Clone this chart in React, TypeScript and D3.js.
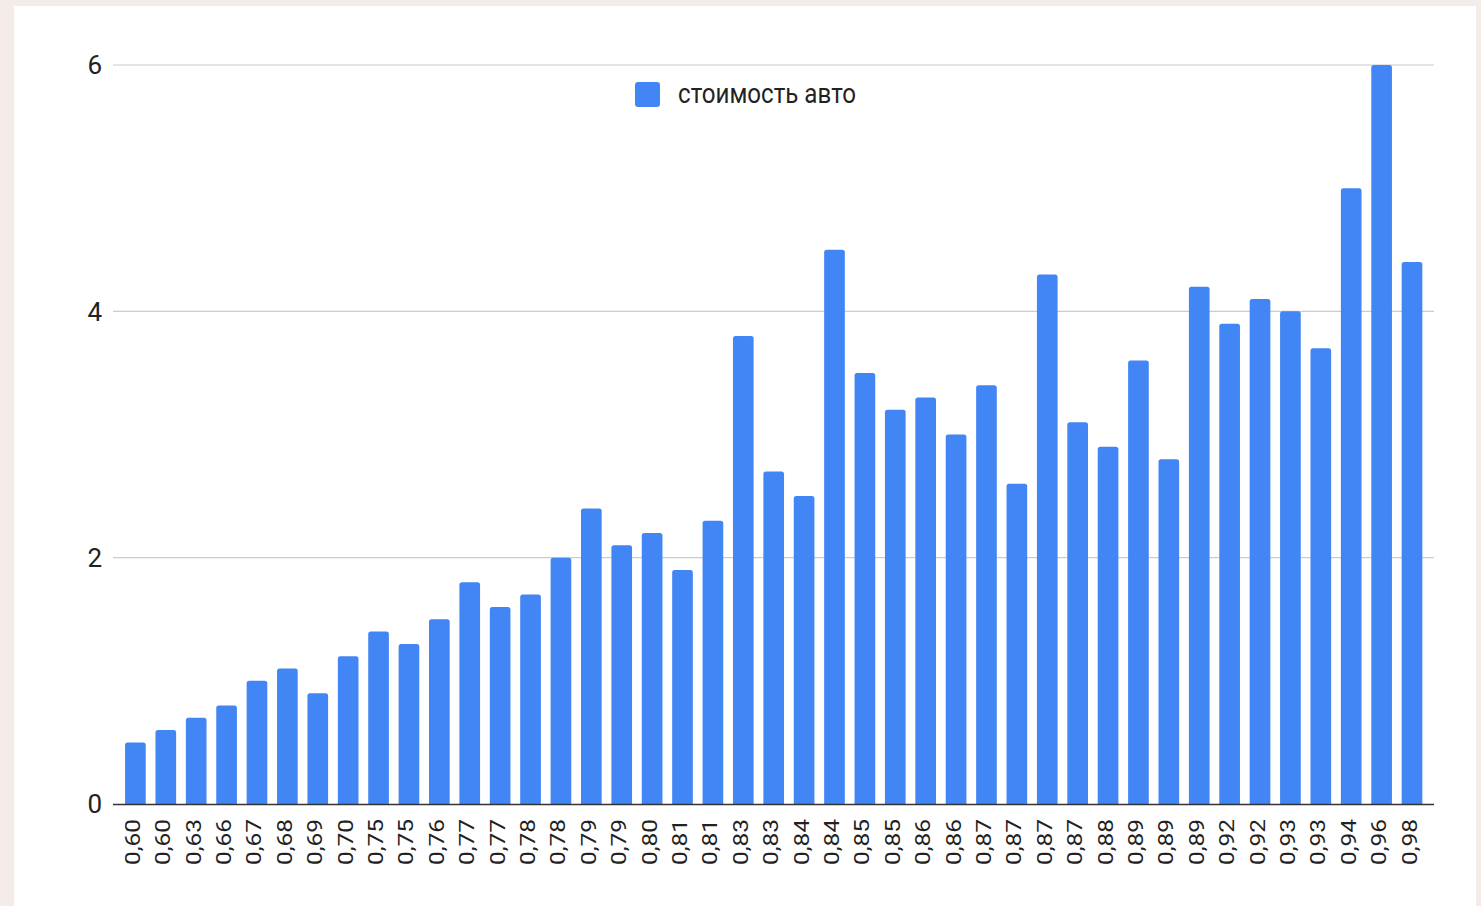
import * as d3 from 'd3'

const labels = [
  '0,60', '0,60', '0,63', '0,66', '0,67', '0,68', '0,69', '0,70', '0,75', '0,75',
  '0,76', '0,77', '0,77', '0,78', '0,78', '0,79', '0,79', '0,80', '0,81', '0,81',
  '0,83', '0,83', '0,84', '0,84', '0,85', '0,85', '0,86', '0,86', '0,87', '0,87',
  '0,87', '0,87', '0,88', '0,89', '0,89', '0,89', '0,92', '0,92', '0,93', '0,93',
  '0,94', '0,96', '0,98',
]

const values = [
  0.5, 0.6, 0.7, 0.8, 1.0, 1.1, 0.9, 1.2, 1.4, 1.3,
  1.5, 1.8, 1.6, 1.7, 2.0, 2.4, 2.1, 2.2, 1.9, 2.3,
  3.8, 2.7, 2.5, 4.5, 3.5, 3.2, 3.3, 3.0, 3.4, 2.6,
  4.3, 3.1, 2.9, 3.6, 2.8, 4.2, 3.9, 4.1, 4.0, 3.7,
  5.0, 6.0, 4.4,
]

const yTicks = [0, 2, 4, 6]
const seriesName = 'стоимость авто'

const W = 1481
const H = 906
const FONT = 'Roboto, Arial, sans-serif'
const BLUE = '#4285f4'

// top-rounded bar
const barPath = (x: number, y: number, w: number, h: number, r: number) => {
  const rr = Math.min(r, h / 2, w / 2)
  return `M${x},${y + h}V${y + rr}Q${x},${y} ${x + rr},${y}H${x + w - rr}Q${x + w},${y} ${x + w},${y + rr}V${y + h}Z`
}

export default function App() {
  const x = d3
    .scaleBand<number>()
    .domain(labels.map((_, i) => i))
    .range([120.2, 1427.2])
    .paddingInner(0.32)
    .paddingOuter(0.16)

  const y = d3.scaleLinear().domain([0, 6]).range([804, 65])

  const plotLeft = 113
  const plotRight = 1434

  return (
    <svg
      width={W}
      height={H}
      style={{ position: 'absolute', left: 0, top: 0, display: 'block' }}
      fontFamily={FONT}
    >
      <rect width={W} height={H} fill="#f3ece9" />
      <rect x={14} y={6} width={1462} height={H} fill="#ffffff" />

      {/* grid + y labels */}
      {yTicks.map((t) => (
        <g key={t}>
          {t !== 0 && (
            <line x1={plotLeft} x2={plotRight} y1={y(t)} y2={y(t)} stroke="#cccccc" strokeWidth={1.2} />
          )}
          <text
            x={102}
            y={y(t)}
            dy="0.36em"
            textAnchor="end"
            fontSize={26}
            fill="#222"
          >
            {d3.format('d')(t)}
          </text>
        </g>
      ))}

      {/* bars */}
      {values.map((v, i) => (
        <path
          key={i}
          d={barPath(x(i)!, y(v), x.bandwidth(), y(0) - y(v), 2.5)}
          fill={BLUE}
        />
      ))}

      {/* x axis */}
      <line x1={plotLeft} x2={plotRight} y1={y(0) + 0.5} y2={y(0) + 0.5} stroke="#333" strokeWidth={1.3} />
      {labels.map((l, i) => {
        const cx = x(i)! + x.bandwidth() / 2
        return (
          <text
            key={i}
            transform={`translate(${cx + 4.5},819) rotate(-90)`}
            textAnchor="end"
            fontSize={21}
            fill="#222"
            textLength={46}
            lengthAdjust="spacingAndGlyphs"
          >
            {l}
          </text>
        )
      })}

      {/* legend */}
      <rect x={635} y={82} width={25} height={25} rx={3} fill={BLUE} />
      <text
        x={678}
        y={103}
        fontSize={28}
        fill="#222"
        textLength={178}
        lengthAdjust="spacingAndGlyphs"
      >
        {seriesName}
      </text>
    </svg>
  )
}
